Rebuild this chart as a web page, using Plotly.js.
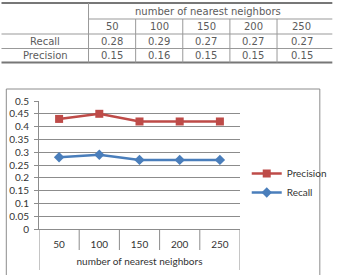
<!DOCTYPE html>
<html>
<head>
<meta charset="utf-8">
<script src="https://cdn.plot.ly/plotly-3.0.1.min.js"></script>
<style>
  html, body { margin: 0; padding: 0; background: #fff; }
  #chart { width: 344px; height: 275px; }
</style>
</head>
<body>
<div id="chart"></div>
<script>
// Neighbourhood sizes shared by the table and the chart
const neighbors = ['50', '100', '150', '200', '250'];
const tableHeader = 'number of nearest neighbors';
const tableRowNames = ['Recall', 'Precision'];
const tableRecall = [0.28, 0.29, 0.27, 0.27, 0.27];
const tablePrecision = [0.15, 0.16, 0.15, 0.15, 0.15];

// Series plotted in the line chart
const chartRecall = [0.28, 0.29, 0.27, 0.27, 0.27];
const chartPrecision = [0.43, 0.45, 0.42, 0.42, 0.42];

// Plot-area geometry in pixels (figure is 344 x 275)
const W = 344, H = 275;
const plotL = 39, plotR = 248, plotT = 101, plotB = 229;
const px = v => (v - plotL) / (plotR - plotL);   // pixel x -> paper x
const py = v => (plotB - v) / (plotB - plotT);   // pixel y -> paper y

const shapes = [];
const annotations = [];
const tableFont = { family: 'DejaVu Sans', size: 10, color: '#5c5c5c' };

function hline(x0, x1, y, color, width) {
  shapes.push({ type: 'line', xref: 'paper', yref: 'paper',
    x0: px(x0), x1: px(x1), y0: py(y), y1: py(y),
    line: { color: color, width: width } });
}
function vline(x, y0, y1, color, width) {
  shapes.push({ type: 'line', xref: 'paper', yref: 'paper',
    x0: px(x), x1: px(x), y0: py(y0), y1: py(y1),
    line: { color: color, width: width } });
}
function label(text, x, y, font) {
  annotations.push({ text: text, xref: 'paper', yref: 'paper',
    x: px(x), y: py(y), xanchor: 'center', yanchor: 'middle',
    showarrow: false, font: font });
}

// ---- summary table above the chart ----
const tTop = 3, tBot = 62.5, tLeft = 0, tRight = 344, firstCol = 90.5;
const rowLines = [19, 34, 48.5];
const colW = 49;
const colEdges = neighbors.map((_, i) => firstCol + i * colW);
colEdges.push(tRight);

hline(tLeft, tRight, tTop, '#777', 2);
hline(tLeft, tRight, tBot, '#777', 2);
hline(firstCol, tRight, rowLines[0], '#999', 1);
hline(tLeft, tRight, rowLines[1], '#999', 1);
hline(tLeft, tRight, rowLines[2], '#999', 1);
vline(firstCol, tTop, tBot, '#999', 1);
colEdges.slice(1, -1).forEach(x => vline(x, rowLines[0], tBot, '#999', 1));

label(tableHeader, (firstCol + tRight) / 2 - 3, (tTop + rowLines[0]) / 2 + 0.5, tableFont);
const rowCentres = [(rowLines[0] + rowLines[1]) / 2, (rowLines[1] + rowLines[2]) / 2, (rowLines[2] + tBot) / 2];
neighbors.forEach((n, i) => {
  const cx = (colEdges[i] + colEdges[i + 1]) / 2 - (i === neighbors.length - 1 ? 3 : 0);
  label(n, cx, rowCentres[0], tableFont);
  label(tableRecall[i].toFixed(2), cx, rowCentres[1], tableFont);
  label(tablePrecision[i].toFixed(2), cx, rowCentres[2], tableFont);
});
label(tableRowNames[0], (tLeft + firstCol) / 2, rowCentres[1], tableFont);
label(tableRowNames[1], (tLeft + firstCol) / 2, rowCentres[2], tableFont);

// ---- chart frame ----
shapes.push({ type: 'rect', xref: 'paper', yref: 'paper',
  x0: px(5), x1: px(331), y0: py(89), y1: py(285),
  line: { color: '#8c8c8c', width: 1 } });

// category separators below the axis (Excel-style boxed categories)
neighbors.forEach((_, i) => {
  if (i === 0) return;
  shapes.push({ type: 'line', xref: 'x', yref: 'paper',
    x0: i - 0.5, x1: i - 0.5, y0: 0, y1: py(250),
    line: { color: '#8c8c8c', width: 1 } });
});
[-0.5, neighbors.length - 0.5].forEach(x => {
  shapes.push({ type: 'line', xref: 'x', yref: 'paper',
    x0: x, x1: x, y0: 0, y1: py(270),
    line: { color: '#8c8c8c', width: 1 } });
});

const traces = [
  {
    name: 'Recall', x: neighbors, y: chartRecall, type: 'scatter', mode: 'lines+markers',
    line: { color: '#4A7EBB', width: 2.5 },
    marker: { symbol: 'diamond', size: 8, color: '#4A7EBB' }
  },
  {
    name: 'Precision', x: neighbors, y: chartPrecision, type: 'scatter', mode: 'lines+markers',
    line: { color: '#BE4B48', width: 2.5 },
    marker: { symbol: 'square', size: 8, color: '#BE4B48' }
  }
];

const layout = {
  width: W, height: H,
  margin: { l: plotL, r: W - plotR, t: plotT, b: H - plotB, pad: 0 },
  paper_bgcolor: '#fff', plot_bgcolor: '#fff',
  font: { family: 'Lato', size: 10, color: '#333' },
  showlegend: true,
  legend: {
    x: px(255), y: py(159), xanchor: 'left', yanchor: 'top',
    traceorder: 'reversed', bgcolor: 'rgba(0,0,0,0)',
    font: { family: 'Lato', size: 10, color: '#333' },
    tracegroupgap: 0
  },
  xaxis: {
    type: 'category', range: [-0.5, neighbors.length - 0.5],
    showgrid: false, zeroline: false,
    showline: true, linecolor: '#8c8c8c', linewidth: 1,
    ticks: '', ticklabelstandoff: 6,
    tickfont: { family: 'Lato', size: 10, color: '#333' },
    title: { text: 'number of nearest neighbors', standoff: 8,
      font: { family: 'Lato', size: 10, color: '#333' } },
    fixedrange: true
  },
  yaxis: {
    range: [0, 0.5], dtick: 0.05, tick0: 0,
    showgrid: true, gridcolor: '#8c8c8c', gridwidth: 1,
    zeroline: false, showline: true, linecolor: '#8c8c8c', linewidth: 1,
    ticks: 'outside', ticklen: 4, tickcolor: '#8c8c8c', ticklabelstandoff: 3,
    tickfont: { family: 'Lato', size: 10, color: '#333' },
    fixedrange: true
  },
  shapes: shapes,
  annotations: annotations
};

Plotly.newPlot('chart', traces, layout, { displayModeBar: false, staticPlot: true });
</script>
</body>
</html>
